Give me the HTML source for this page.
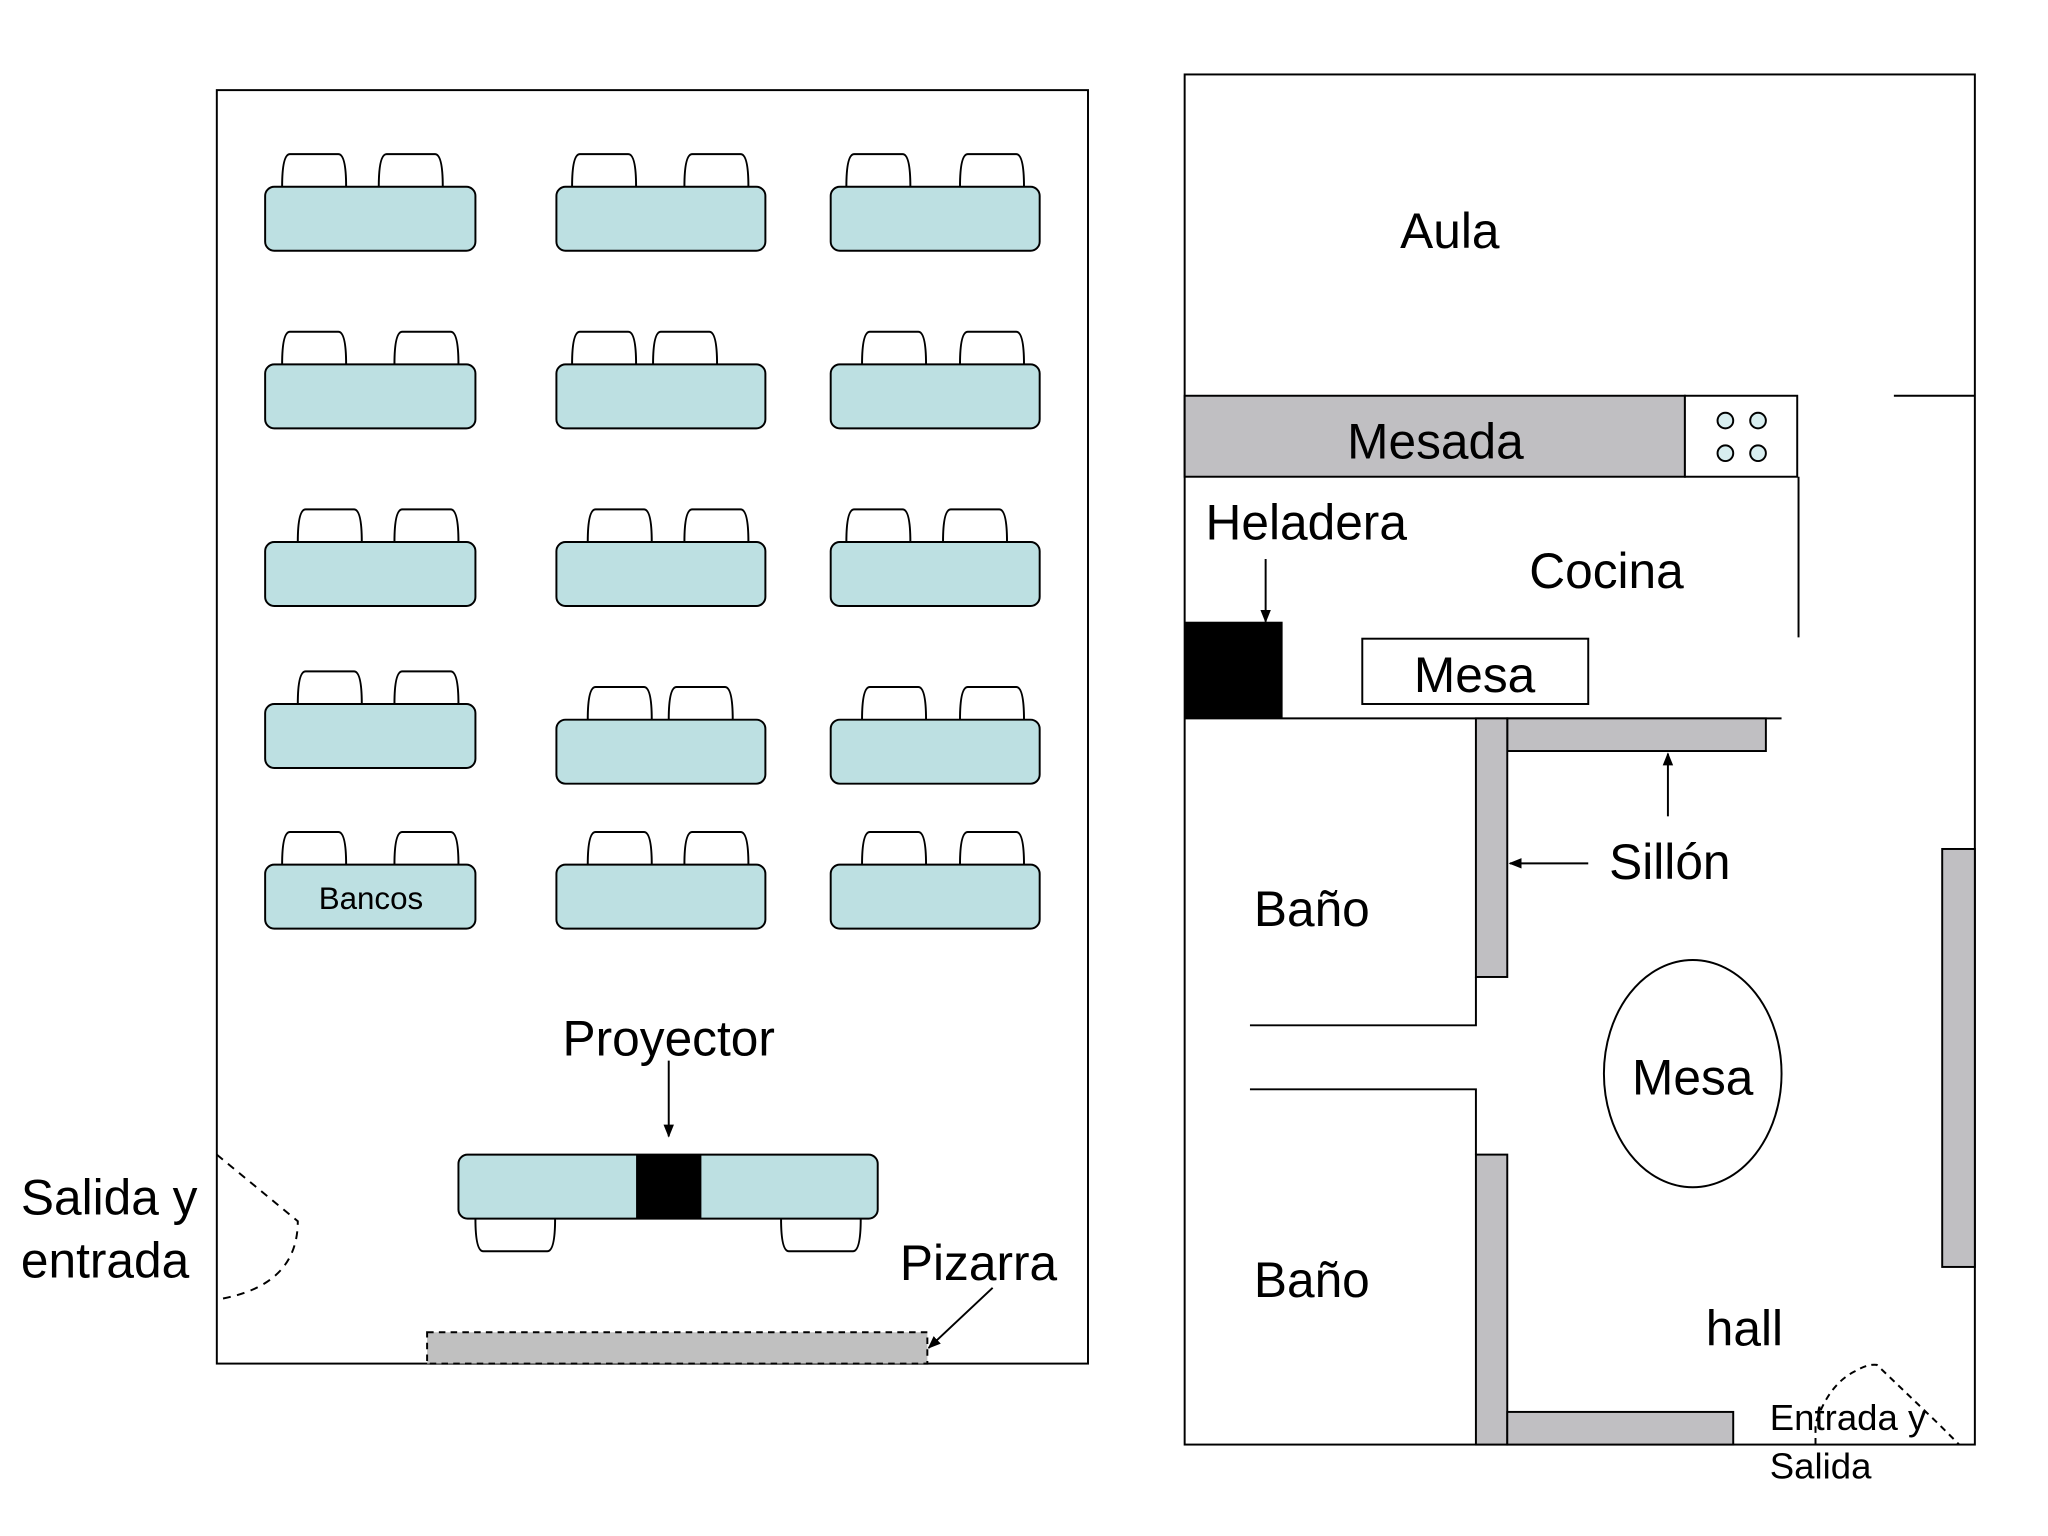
<!DOCTYPE html>
<html><head><meta charset="utf-8"><style>
html,body{margin:0;padding:0;background:#fff;}
svg{display:block;}
text{font-family:"Liberation Sans",Arial,sans-serif;fill:#000;}
</style></head><body>
<svg width="2048" height="1536" viewBox="0 0 1568 1176" preserveAspectRatio="none" xmlns="http://www.w3.org/2000/svg">
<defs>
<marker id="ah" markerWidth="10" markerHeight="10" refX="9" refY="5" orient="auto" markerUnits="userSpaceOnUse">
<path d="M0,1 L10,5 L0,9 z" fill="#000"/>
</marker>
</defs>
<rect width="1568" height="1176" fill="#fff"/>
<rect x="166" y="69" width="667" height="975" fill="none" stroke="#000" stroke-width="1.5"/>
<g stroke="#000" stroke-width="1.5" fill="#fff">
<path d="M216,143 Q216,118 222,118 L259,118 Q265,118 265,143"/>
<path d="M290,143 Q290,118 296,118 L333,118 Q339,118 339,143"/>
<path d="M438,143 Q438,118 444,118 L481,118 Q487,118 487,143"/>
<path d="M524,143 Q524,118 530,118 L567,118 Q573,118 573,143"/>
<path d="M648,143 Q648,118 654,118 L691,118 Q697,118 697,143"/>
<path d="M735,143 Q735,118 741,118 L778,118 Q784,118 784,143"/>
<path d="M216,279 Q216,254 222,254 L259,254 Q265,254 265,279"/>
<path d="M302,279 Q302,254 308,254 L345,254 Q351,254 351,279"/>
<path d="M438,279 Q438,254 444,254 L481,254 Q487,254 487,279"/>
<path d="M500,279 Q500,254 506,254 L543,254 Q549,254 549,279"/>
<path d="M660,279 Q660,254 666,254 L703,254 Q709,254 709,279"/>
<path d="M735,279 Q735,254 741,254 L778,254 Q784,254 784,279"/>
<path d="M228,415 Q228,390 234,390 L271,390 Q277,390 277,415"/>
<path d="M302,415 Q302,390 308,390 L345,390 Q351,390 351,415"/>
<path d="M450,415 Q450,390 456,390 L493,390 Q499,390 499,415"/>
<path d="M524,415 Q524,390 530,390 L567,390 Q573,390 573,415"/>
<path d="M648,415 Q648,390 654,390 L691,390 Q697,390 697,415"/>
<path d="M722,415 Q722,390 728,390 L765,390 Q771,390 771,415"/>
<path d="M228,539 Q228,514 234,514 L271,514 Q277,514 277,539"/>
<path d="M302,539 Q302,514 308,514 L345,514 Q351,514 351,539"/>
<path d="M450,551 Q450,526 456,526 L493,526 Q499,526 499,551"/>
<path d="M512,551 Q512,526 518,526 L555,526 Q561,526 561,551"/>
<path d="M660,551 Q660,526 666,526 L703,526 Q709,526 709,551"/>
<path d="M735,551 Q735,526 741,526 L778,526 Q784,526 784,551"/>
<path d="M216,662 Q216,637 222,637 L259,637 Q265,637 265,662"/>
<path d="M302,662 Q302,637 308,637 L345,637 Q351,637 351,662"/>
<path d="M450,662 Q450,637 456,637 L493,637 Q499,637 499,662"/>
<path d="M524,662 Q524,637 530,637 L567,637 Q573,637 573,662"/>
<path d="M660,662 Q660,637 666,637 L703,637 Q709,637 709,662"/>
<path d="M735,662 Q735,637 741,637 L778,637 Q784,637 784,662"/>
<path d="M364,933 Q364,958 370,958 L419,958 Q425,958 425,933"/>
<path d="M598,933 Q598,958 604,958 L653,958 Q659,958 659,933"/>
</g>
<g stroke="#000" stroke-width="1.5" fill="#bde0e2">
<rect x="203" y="143" width="161" height="49" rx="7"/>
<rect x="426" y="143" width="160" height="49" rx="7"/>
<rect x="636" y="143" width="160" height="49" rx="7"/>
<rect x="203" y="279" width="161" height="49" rx="7"/>
<rect x="426" y="279" width="160" height="49" rx="7"/>
<rect x="636" y="279" width="160" height="49" rx="7"/>
<rect x="203" y="415" width="161" height="49" rx="7"/>
<rect x="426" y="415" width="160" height="49" rx="7"/>
<rect x="636" y="415" width="160" height="49" rx="7"/>
<rect x="203" y="539" width="161" height="49" rx="7"/>
<rect x="426" y="551" width="160" height="49" rx="7"/>
<rect x="636" y="551" width="160" height="49" rx="7"/>
<rect x="203" y="662" width="161" height="49" rx="7"/>
<rect x="426" y="662" width="160" height="49" rx="7"/>
<rect x="636" y="662" width="160" height="49" rx="7"/>
<rect x="351" y="884" width="321" height="49" rx="7"/>
</g>
<rect x="487" y="884" width="50" height="49" fill="#000"/>
<text x="284" y="696" font-size="24" text-anchor="middle">Bancos</text>
<text x="512" y="808" font-size="38" text-anchor="middle">Proyector</text>
<line x1="512" y1="812" x2="512" y2="870" stroke="#000" stroke-width="1.5" marker-end="url(#ah)"/>
<rect x="327" y="1020" width="383" height="24" fill="#c0c0c0" stroke="#000" stroke-width="1.5" stroke-dasharray="5,4"/>
<text x="689" y="980" font-size="38">Pizarra</text>
<line x1="760" y1="986" x2="711" y2="1032" stroke="#000" stroke-width="1.5" marker-end="url(#ah)"/>
<path d="M166,884 L228,935 Q228,985 166,995" fill="none" stroke="#000" stroke-width="1.5" stroke-dasharray="6,5"/>
<text x="16" y="930" font-size="38">Salida y</text>
<text x="16" y="978" font-size="38">entrada</text>

<rect x="907" y="57" width="605" height="1049" fill="none" stroke="#000" stroke-width="1.5"/>
<text x="1110" y="190" font-size="38" text-anchor="middle">Aula</text>
<line x1="1450" y1="303" x2="1512" y2="303" stroke="#000" stroke-width="1.5"/>
<rect x="907" y="303" width="383" height="62" fill="#c0bfc2" stroke="#000" stroke-width="1.5"/>
<rect x="1290" y="303" width="86" height="62" fill="#fff" stroke="#000" stroke-width="1.5"/>
<g fill="#d8eef0" stroke="#000" stroke-width="1.5">
<circle cx="1321" cy="322" r="6"/><circle cx="1346" cy="322" r="6"/>
<circle cx="1321" cy="347" r="6"/><circle cx="1346" cy="347" r="6"/>
</g>
<text x="1099" y="351" font-size="38" text-anchor="middle">Mesada</text>
<line x1="1377" y1="365" x2="1377" y2="488" stroke="#000" stroke-width="1.5"/>
<text x="923" y="413" font-size="38">Heladera</text>
<line x1="969" y1="428" x2="969" y2="476" stroke="#000" stroke-width="1.5" marker-end="url(#ah)"/>
<rect x="907" y="476" width="75" height="74" fill="#000"/>
<text x="1230" y="450" font-size="38" text-anchor="middle">Cocina</text>
<rect x="1043" y="489" width="173" height="50" fill="#fff" stroke="#000" stroke-width="1.5"/>
<text x="1129" y="530" font-size="38" text-anchor="middle">Mesa</text>
<line x1="907" y1="550" x2="1364" y2="550" stroke="#000" stroke-width="1.5"/>
<rect x="1154" y="550" width="198" height="25" fill="#c0bfc2" stroke="#000" stroke-width="1.5"/>
<rect x="1130" y="550" width="24" height="198" fill="#c0bfc2" stroke="#000" stroke-width="1.5"/>
<line x1="1277" y1="625" x2="1277" y2="577" stroke="#000" stroke-width="1.5" marker-end="url(#ah)"/>
<line x1="1216" y1="661" x2="1156" y2="661" stroke="#000" stroke-width="1.5" marker-end="url(#ah)"/>
<text x="1232" y="673" font-size="38">Sillón</text>
<text x="960" y="709" font-size="38">Baño</text>
<polyline points="957,785 1130,785 1130,748" fill="none" stroke="#000" stroke-width="1.5"/>
<polyline points="957,834 1130,834 1130,884" fill="none" stroke="#000" stroke-width="1.5"/>
<rect x="1130" y="884" width="24" height="222" fill="#c0bfc2" stroke="#000" stroke-width="1.5"/>
<rect x="1154" y="1081" width="173" height="25" fill="#c0bfc2" stroke="#000" stroke-width="1.5"/>
<text x="960" y="993" font-size="38">Baño</text>
<ellipse cx="1296" cy="822" rx="68" ry="87" fill="#fff" stroke="#000" stroke-width="1.5"/>
<text x="1296" y="838" font-size="38" text-anchor="middle">Mesa</text>
<rect x="1487" y="650" width="25" height="320" fill="#c0bfc2" stroke="#000" stroke-width="1.5"/>
<text x="1306" y="1030" font-size="38">hall</text>
<path d="M1390,1106 L1390,1090 Q1400,1060 1420,1050 Q1430,1044 1437,1045 L1484,1090 L1500,1106" fill="none" stroke="#000" stroke-width="1.5" stroke-dasharray="5,4"/>
<text x="1355" y="1095" font-size="28">Entrada y</text>
<text x="1355" y="1132" font-size="28">Salida</text>
</svg>
</body></html>
